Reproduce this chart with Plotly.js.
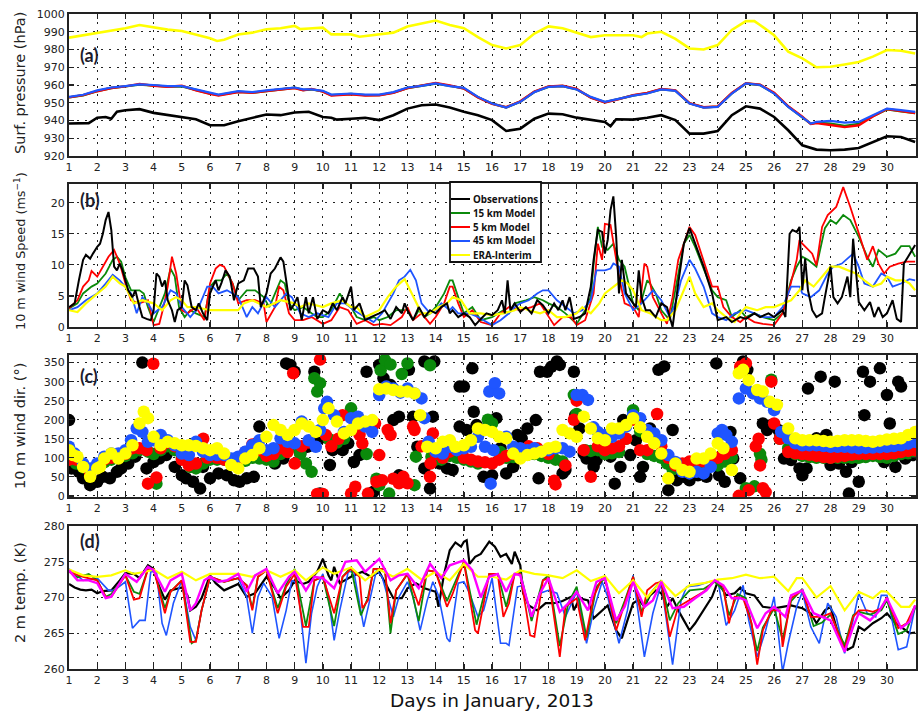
<!DOCTYPE html>
<html><head><meta charset="utf-8">
<script src="https://cdn.plot.ly/plotly-3.0.1.min.js"></script>
<style>html,body{margin:0;padding:0;background:#fff}#chart{width:918px;height:711px}</style>
</head><body><div id="chart"></div>
<script>
// ---------------- DATA (day of January 2013, value) ----------------
const dayTicks = [1,2,3,4,5,6,7,8,9,10,11,12,13,14,15,16,17,18,19,20,21,22,23,24,25,26,27,28,29,30];
const seriesNames = ['Observations','15 km Model','5 km Model','45 km Model','ERA-Interim'];

// (a) Surface pressure (hPa)
const presObs = [[1,938.3],[1.5,938.6],[1.7,938.5],[2,941.6],[2.3,942],[2.5,941],[2.7,944.9],[3,945.8],[3.5,946.4],[4,944.3],[4.5,943],[5,941.6],[5.5,940.7],[6,937.3],[6.5,937.3],[7,939.6],[7.5,941.6],[8,943.4],[8.5,943],[9,944.5],[9.5,944.9],[10,942],[10.3,941.6],[10.5,940.5],[11,941],[11.5,941.5],[12,940.2],[12.5,943],[13,946.7],[13.5,948.6],[14,949],[14.5,947.3],[15,944.9],[15.5,943],[16,940.2],[16.5,934.1],[17,935.4],[17.5,941],[18,943.9],[18.5,943.5],[19,941.6],[19.5,940.5],[20,939.2],[20.2,936.8],[20.4,940.7],[21,940.5],[21.5,941.5],[22,943],[22.5,940.2],[23,932.6],[23.5,932.6],[24,934.1],[24.5,943],[25,948],[25.5,946.7],[26,942],[26.5,934.5],[27,926],[27.5,923.6],[28,923.2],[28.5,923.6],[29,924.5],[29.5,927.9],[30,931.1],[30.5,930.7],[31,927.9]];
const pres15 = [[1,953],[1.5,954.2],[2,956.6],[2.5,958.3],[3,959.2],[3.5,960.2],[4,959.7],[4.5,959.1],[5,959.3],[5.5,957.2],[6,955.2],[6.3,954.3],[7,956.2],[7.5,955.7],[8,956.7],[8.5,957.7],[9,958.4],[9.3,957.2],[9.6,957.5],[10,956.4],[10.3,954.3],[11,954.9],[11.5,954.3],[12,954.3],[12.5,955.7],[13,958.3],[13.5,959.4],[14,960.8],[14.5,959.5],[15,958.1],[15.5,953.1],[16,949.5],[16.5,947.4],[17,950.6],[17.5,956.1],[18,959],[18.5,959.4],[19,957.6],[19.5,953],[20,950.3],[20.5,952.2],[21,954.1],[21.5,955.4],[22,957.6],[22.5,956.8],[23,949.7],[23.5,947.4],[24,947.8],[24.5,955.3],[25,960.8],[25.5,960],[26,955.3],[26.5,947.8],[27,942],[27.3,938.2],[27.5,938.8],[28,938.2],[28.5,937],[29,938],[29.5,942.5],[30,946.3],[30.5,945.2],[31,944.2]];
const pres5 = [[1,953],[1.5,954.3],[2,956.5],[2.5,958.3],[3,959.2],[3.5,960.6],[4,959.6],[4.5,959],[5,959.6],[5.5,957],[6,955],[6.3,954],[7,956],[7.5,955.6],[8,956.6],[8.5,957.6],[9,958.3],[9.3,957],[9.6,957.8],[10,956.3],[10.3,954],[11,954.8],[11.5,954],[12,954.2],[12.5,955.6],[13,958.2],[13.5,959.6],[14,961.2],[14.5,959.8],[15,958],[15.5,953],[16,949.4],[16.5,947.5],[17,950.8],[17.5,956.3],[18,959.2],[18.5,959.6],[19,957.8],[19.5,952.8],[20,950.2],[20.5,952],[21,954.3],[21.5,955.6],[22,957.8],[22.5,957],[23,949.8],[23.5,947.5],[24,947.9],[24.5,955.5],[25,961],[25.5,960.2],[26,955.6],[26.5,948],[27,942.2],[27.3,938],[27.5,938.5],[28,937.5],[28.5,936.3],[29,937.3],[29.5,942.3],[30,946.5],[30.5,945.3],[31,944.2]];
const pres45 = [[1,953.3],[1.5,954.5],[2,957],[2.5,958.6],[3,959.4],[3.5,960.3],[4,960],[4.5,959.4],[5,959.4],[5.5,957.5],[6,955.6],[6.3,954.6],[7,956.5],[7.5,956],[8,957],[8.5,958],[9,958.6],[9.3,957.5],[9.6,957.5],[10,956.7],[10.3,954.6],[11,955.2],[11.5,954.6],[12,954.6],[12.5,956],[13,958.6],[13.5,959.5],[14,960.9],[14.5,959.4],[15,958.4],[15.5,953.3],[16,949.6],[16.5,947.3],[17,950.5],[17.5,956],[18,959],[18.5,959.4],[19,957.5],[19.5,953.3],[20,950.5],[20.5,952.4],[21,954],[21.5,955.2],[22,957.5],[22.5,956.7],[23,949.6],[23.5,947.3],[24,947.7],[24.5,955.2],[25,960.9],[25.5,960],[26,955.2],[26.5,947.7],[27,942],[27.3,938.3],[27.5,939.2],[28,939.8],[28.5,938.8],[29,939.2],[29.5,943],[30,946.7],[30.5,945.8],[31,944.9]];
const presEra = [[1,986.7],[1.5,988],[2,989.5],[2.5,991],[3,992],[3.5,993.8],[4,992.3],[4.5,991.2],[5,990.4],[5.5,988.5],[6,986.3],[6.25,984.8],[6.5,985.5],[7,988.5],[7.5,989.5],[8,991.4],[8.5,992],[9,993.3],[9.2,991.5],[9.5,991.8],[10,992.3],[10.3,988.5],[11,988.5],[11.3,987.2],[11.5,987.6],[12,988.7],[12.5,989.5],[13,992.9],[13.5,994.5],[14,996.3],[14.5,993.8],[15,992],[15.5,987],[16,982.5],[16.5,980.6],[17,982.5],[17.5,989],[18,993],[18.5,992],[19,989.7],[19.5,987],[20,988],[20.5,988],[21,988],[21.3,987],[21.5,989],[22,990],[22.5,986],[23,980.6],[23.5,980],[24,982.5],[24.5,991],[25,996],[25.3,996],[25.5,993.8],[26,988],[26.5,978.8],[27,975],[27.5,970],[28,970.3],[28.5,971.6],[29,973],[29.5,976],[30,979.7],[30.5,979.3],[31,977.8]];

// (b) 10 m wind speed (m/s)
const spdObs = [[1,3.2],[1.2,3.8],[1.35,7.5],[1.5,10.8],[1.6,11.6],[1.75,11],[1.85,11.8],[2,12.9],[2.1,13.4],[2.2,15],[2.3,17.2],[2.4,18.5],[2.5,15.6],[2.6,9.7],[2.7,9.1],[2.8,10.2],[2.9,9.1],[3,7.5],[3.1,5.9],[3.25,4.8],[3.35,5.9],[3.5,3.2],[3.6,1.6],[3.75,1.3],[3.9,1.1],[4,2.7],[4.1,8.6],[4.2,8.1],[4.3,6.5],[4.4,7.5],[4.5,4.3],[4.65,2.7],[4.75,0.8],[4.85,2.7],[5,3.2],[5.1,7.5],[5.2,6.7],[5.35,3.2],[5.5,2.7],[5.6,3.8],[5.75,2.2],[5.9,1.1],[6,5.4],[6.1,6.5],[6.2,7.5],[6.3,5.9],[6.4,7],[6.55,9.1],[6.7,8.1],[6.85,4.3],[7,7],[7.2,7.5],[7.35,9.4],[7.55,9.4],[7.7,8.1],[7.8,3.2],[8,5.4],[8.15,8.6],[8.3,9.4],[8.5,11.2],[8.6,10.5],[8.7,7.5],[8.85,2.7],[9,3.8],[9.1,4.8],[9.25,1.1],[9.4,4.8],[9.5,2.2],[9.65,4.8],[9.8,1.3],[10,2.7],[10.2,2.2],[10.35,3.8],[10.5,2.7],[10.7,4.8],[10.8,3.8],[11,6.5],[11.1,2.7],[11.3,3.8],[11.5,1.1],[11.7,1.6],[12,2.2],[12.2,2.7],[12.4,1.3],[12.6,3.2],[12.8,2.2],[12.9,3.8],[13,2.7],[13.2,1.1],[13.4,3.2],[13.6,1.6],[13.8,2.7],[14,2.2],[14.2,3.2],[14.4,3.8],[14.5,2.2],[14.6,2.7],[14.8,1.6],[15,2.2],[15.2,1.6],[15.4,0.3],[15.6,1.3],[15.8,2.2],[16,1.9],[16.2,2.7],[16.35,4.3],[16.45,2.2],[16.55,7.5],[16.65,2.7],[16.8,3.8],[17,2.4],[17.2,3.2],[17.4,2.2],[17.6,4.3],[17.8,3.5],[18,2.2],[18.2,3.8],[18.35,2.7],[18.5,4.3],[18.6,2.7],[18.75,4.8],[18.9,1.3],[19.1,1.6],[19.3,2.2],[19.5,6.5],[19.6,10.8],[19.75,15.6],[19.9,15.3],[20,11.8],[20.1,14],[20.2,18.8],[20.3,21],[20.4,14.5],[20.5,5.4],[20.6,10.8],[20.75,5.4],[21,3.8],[21.1,3.2],[21.2,9.1],[21.3,4.8],[21.45,2.7],[21.6,2.7],[21.8,1.6],[22,3.8],[22.2,3.2],[22.4,0],[22.6,7],[22.8,13.4],[23,15.9],[23.2,13.4],[23.5,9.7],[23.8,5.4],[24,1.1],[24.3,1.6],[24.5,0.8],[24.8,1.6],[25,1.3],[25.3,2.2],[25.5,1.6],[25.8,2.2],[26,1.6],[26.3,2.7],[26.4,1.6],[26.55,15],[26.65,15.6],[26.8,15.3],[26.9,16.1],[27,5.9],[27.1,11],[27.2,5.9],[27.35,2.7],[27.5,1.6],[27.7,2.2],[27.8,4.8],[28,9.7],[28.1,4.8],[28.25,3.8],[28.4,4.8],[28.6,8.1],[28.7,4.8],[28.8,14.2],[28.9,9.1],[29,4],[29.2,2.7],[29.4,4],[29.55,1.6],[29.7,3.2],[29.85,1.6],[30,2.2],[30.2,4.3],[30.35,1.3],[30.5,0.8],[30.6,10.2],[30.75,11.3],[31,13.2]];
const spd15 = [[1,3],[1.3,3.8],[1.5,5.4],[1.8,6.5],[2,7],[2.3,8.6],[2.55,10.8],[2.7,11.3],[2.85,10.5],[3,8],[3.2,5.9],[3.5,5.9],[3.65,5.4],[3.8,3.2],[4,0.8],[4.2,3.2],[4.4,5.4],[4.6,9.4],[4.75,8.1],[4.9,3.2],[5.1,1.6],[5.3,2.7],[5.5,2.2],[5.8,1.6],[6,6.5],[6.2,7.5],[6.4,7.5],[6.6,8.6],[6.8,7],[7,4.3],[7.3,5.9],[7.6,5.9],[7.9,4.8],[8.1,3.2],[8.3,5.4],[8.5,7.5],[8.65,7],[8.8,3.8],[9,2.7],[9.3,3.2],[9.6,2.2],[9.8,1.6],[10,1.6],[10.3,2.7],[10.6,5.4],[10.8,3.8],[11,3.2],[11.2,1.6],[11.5,1.1],[11.8,1.6],[12,1.1],[12.3,1.6],[12.6,2.7],[13,2.7],[13.2,1.1],[13.4,2.7],[13.6,1.6],[13.8,2.2],[14,3.2],[14.3,5.4],[14.5,7.5],[14.6,7.5],[14.8,4.8],[15,2.2],[15.3,3.2],[15.6,1.1],[16,1.6],[16.4,2.7],[16.6,2.2],[16.8,3.8],[17.2,4.3],[17.5,4.8],[17.8,4.3],[18,3.8],[18.3,3.2],[18.6,2.2],[19,0.5],[19.3,2.7],[19.5,4.8],[19.6,10.2],[19.75,16.1],[19.9,12.9],[20.1,12.4],[20.3,13.4],[20.5,10.8],[20.7,9.7],[21,3.8],[21.2,2.7],[21.5,7.5],[21.6,7],[21.8,5.4],[22,2.7],[22.3,1.1],[22.6,8.6],[22.8,13.4],[23,14.8],[23.2,12.9],[23.5,9.4],[23.8,5.9],[24,4.8],[24.3,4.3],[24.5,1.6],[24.8,2.7],[25,1.6],[25.3,2.2],[25.6,1.6],[26,1.1],[26.3,2.2],[26.6,7.5],[26.8,9.7],[27,11.3],[27.2,10.8],[27.5,9.7],[27.8,15.9],[28,17.2],[28.2,16.6],[28.45,18],[28.7,17.2],[29,14.5],[29.3,11.3],[29.5,9.7],[29.7,12.4],[30,11.3],[30.3,11.8],[30.5,13],[30.8,13],[31,11.3]];
const spd5 = [[1,3],[1.3,4.3],[1.5,6.5],[1.7,7.5],[1.8,9],[2,8.1],[2.2,9.7],[2.4,11.3],[2.6,12.4],[2.8,10.2],[3,7],[3.2,4.3],[3.5,3.8],[3.8,4.3],[4,0.3],[4.2,0.5],[4.35,3.2],[4.5,6.5],[4.65,11.3],[4.8,8.6],[5,2.7],[5.2,2.2],[5.5,3.2],[5.8,1.1],[6,7],[6.2,9.4],[6.35,10],[6.5,9.7],[6.8,7],[7,3.8],[7.3,4.3],[7.6,4.3],[7.9,3.8],[8,0.8],[8.3,3.2],[8.45,6.5],[8.6,5.9],[8.8,2.2],[9,1.1],[9.3,1.1],[9.6,1.6],[10,0.5],[10.3,1.1],[10.6,3.2],[10.9,2.7],[11.2,0.5],[11.5,1.1],[11.8,0.3],[12.1,0.5],[12.4,0.3],[12.8,1.6],[13,3.2],[13.2,1.1],[13.5,2.2],[13.8,0.5],[14,1.6],[14.3,3.8],[14.5,6.5],[14.6,6.5],[14.8,3.8],[15,1.6],[15.3,2.7],[15.6,0.8],[16,0.3],[16.3,2.2],[16.6,3.2],[17,2.7],[17.4,3.2],[17.7,3.8],[18,1.6],[18.2,0.3],[18.5,1.6],[18.8,1.6],[19,0.3],[19.3,1.1],[19.6,5.4],[19.75,13.4],[19.9,10.8],[20,16.6],[20.2,16.4],[20.35,12.4],[20.5,8.1],[20.7,3.8],[21,3.2],[21.2,1.6],[21.4,10.2],[21.5,9.7],[21.7,4.8],[22,2.2],[22.2,0.5],[22.4,4.8],[22.6,10.8],[22.8,13.4],[23,16.1],[23.2,14.8],[23.5,10.8],[23.8,6.5],[24,6.5],[24.2,3.2],[24.5,1.6],[24.8,0.8],[25,1.6],[25.3,0.8],[25.6,0.5],[26,0.3],[26.3,2.2],[26.5,5.4],[26.8,10.8],[26.9,14],[27,13.4],[27.2,12.4],[27.35,11.8],[27.5,9.9],[27.7,16.1],[27.9,18],[28.2,19.3],[28.45,22.5],[28.7,19.3],[29,15.1],[29.3,10.8],[29.5,13],[29.7,10.2],[29.9,8.6],[30.1,9.7],[30.4,10.2],[30.7,10.5],[31,10.5]];
const spd45 = [[1,2.7],[1.3,3.2],[1.6,4.3],[2,5.4],[2.3,7],[2.55,8.4],[2.8,7.5],[3,6.5],[3.2,5.4],[3.4,2.2],[3.6,4.8],[3.8,3.8],[4,2.2],[4.3,3.2],[4.6,5.9],[4.8,5.4],[5,3.2],[5.3,1.6],[5.6,3.2],[5.9,6.5],[6.1,6.5],[6.3,5.4],[6.6,5.9],[6.8,5.4],[7,4.8],[7.3,1.6],[7.5,3.2],[7.7,2.2],[8,4.8],[8.3,3.2],[8.5,4.3],[8.7,5.4],[8.9,4.8],[9.2,2.2],[9.5,1.6],[9.8,2.2],[10.2,1.6],[10.5,3.8],[10.8,3.8],[11.1,2.7],[11.5,1.6],[11.8,0.8],[12.1,2.2],[12.5,5.4],[12.7,7.5],[12.9,8.1],[13.1,9.2],[13.3,7.5],[13.5,3.8],[13.8,2.2],[14,2.7],[14.2,3.8],[14.5,2.7],[14.6,3.2],[14.8,2.2],[15.2,2.2],[15.5,1.6],[15.8,0.8],[16,0.3],[16.3,1.1],[16.6,2.2],[16.8,3.2],[17,3.8],[17.3,4.3],[17.6,5.4],[17.8,5.9],[18,5.9],[18.3,4.3],[18.6,3.2],[18.9,2.2],[19.2,2.7],[19.5,4.3],[19.7,9.1],[20,9.1],[20.2,9.4],[20.3,10.2],[20.5,9.7],[20.7,5.4],[21,2.7],[21.3,3.8],[21.5,4.8],[21.7,5.9],[22,4.3],[22.3,1.6],[22.5,3.8],[22.7,7.5],[23,10.8],[23.2,9.4],[23.5,6.5],[23.8,2.2],[24,1.6],[24.3,1.1],[24.6,2.2],[25,2.7],[25.3,2.2],[25.6,1.6],[26,1.6],[26.3,3.2],[26.6,6.5],[26.9,6.5],[27,5.4],[27.3,4.8],[27.6,5.9],[27.9,8.6],[28.1,9.7],[28.4,10.2],[28.8,11.8],[29,9.7],[29.2,7],[29.5,6.5],[29.8,8.6],[30,8.1],[30.2,6.5],[30.5,7],[30.8,7.7],[31,7.5]];
const spdEra = [[1,2.7],[1.3,2.4],[1.6,3.8],[2,5.4],[2.3,6.5],[2.55,8.1],[2.8,7],[3,6.5],[3.3,3.8],[3.6,4.3],[4,3.8],[4.3,2.7],[4.6,4.3],[4.8,4.8],[5,4.3],[5.2,3.2],[5.5,3.2],[6,2.7],[7,2.7],[7.2,3.8],[7.5,4.3],[8,3.2],[8.5,4.3],[9,3.8],[9.2,3.2],[9.5,3.8],[10,3.2],[10.3,3.8],[10.7,4.3],[11,3.2],[11.2,3.2],[11.5,1.6],[11.8,2.2],[12,2.7],[12.3,4.8],[12.6,6.5],[12.9,7.7],[13.1,5.9],[13.5,2.2],[13.8,2.2],[14.1,3.2],[14.4,3.8],[14.6,4.8],[14.9,4.3],[15.2,2.2],[15.6,2.2],[16,1.9],[16.4,2.2],[16.8,2.7],[17,3.2],[17.3,2.7],[17.7,2.2],[18,2.7],[18.3,1.6],[18.6,1.6],[19,2.2],[19.2,3.2],[19.5,2.2],[19.8,3.8],[20,5.4],[20.3,6.5],[20.6,7.5],[20.8,7],[21,5.9],[21.3,2.7],[21.6,2.2],[22,1.1],[22.2,1.1],[22.5,2.7],[22.8,5.9],[23,8.1],[23.2,5.4],[23.5,3.2],[23.8,3.8],[24,2.7],[24.3,1.6],[24.6,0.8],[24.8,2.2],[25,3.2],[25.4,2.7],[25.7,3.2],[26,3.2],[26.3,3.8],[26.6,4.3],[26.9,5.9],[27.1,7.5],[27.4,6.5],[27.7,8.1],[28,9.7],[28.3,9.7],[28.6,9.1],[28.9,8.6],[29.2,7.5],[29.5,6.5],[29.8,7],[30,8.1],[30.3,7.5],[30.6,7.5],[30.8,7],[31,5.9]];

// (c) 10 m wind direction (degrees)
const dirObs = [[1,199],[1.1,72],[1.35,63],[1.5,46],[1.75,28],[2,37],[2.2,50],[2.45,46],[2.7,63],[2.85,72],[3.1,85],[3.35,103],[3.6,350],[3.75,72],[4,89],[4.2,98],[4.45,107],[4.75,76],[5,54],[5.15,46],[5.4,37],[5.65,19],[5.75,76],[6,46],[6.3,59],[6.6,54],[6.85,41],[7.05,37],[7.3,46],[7.55,50],[7.75,182],[8,103],[8.3,85],[8.6,98],[8.7,348],[8.85,344],[9,326],[9.2,111],[9.45,129],[9.7,326],[9.9,6],[9.9,151],[10.25,81],[10.35,120],[10.7,120],[10.9,138],[11.1,89],[11.3,107],[11.55,326],[11.8,11],[12,344],[12.15,309],[12.4,291],[12.5,199],[12.7,208],[12.7,54],[13.05,331],[13.2,208],[13.35,129],[13.6,353],[13.6,72],[13.8,19],[13.9,208],[13.95,353],[14.15,85],[14.4,72],[14.6,68],[14.85,182],[14.85,287],[15,287],[15.1,173],[15.3,335],[15.35,221],[15.45,186],[15.7,50],[16,54],[16.15,204],[16.3,125],[16.5,59],[16.75,76],[16.9,160],[17.05,151],[17.25,177],[17.55,199],[17.65,46],[17.7,326],[17.95,326],[18.1,339],[18.3,353],[18.4,344],[18.5,59],[18.6,68],[18.9,326],[18.95,212],[19.1,177],[19.25,111],[19.35,98],[19.6,76],[19.7,94],[19.95,116],[20.2,103],[20.35,32],[20.55,76],[20.65,199],[20.9,107],[21.1,146],[21.25,50],[21.35,76],[21.6,177],[21.9,331],[22.1,340],[22.25,15],[22.4,173],[22.55,41],[22.8,50],[23,41],[23.3,54],[23.6,50],[23.95,348],[24.05,54],[24.25,37],[24.45,168],[24.55,98],[24.8,46],[24.9,353],[25.05,331],[25.6,190],[25.75,173],[25.9,186],[26.15,173],[26.35,98],[26.6,94],[26.9,72],[27,54],[27.15,72],[27.2,282],[27.5,151],[27.65,313],[27.75,107],[27.85,160],[28,81],[28.15,300],[28.3,85],[28.55,63],[28.65,6],[28.75,89],[29,37],[29.15,326],[29.2,212],[29.4,300],[29.75,335],[29.9,89],[30,265],[30.1,190],[30.3,76],[30.4,300],[30.5,287],[30.65,98],[30.9,107]];
const dir15 = [[1,95],[1.25,85],[1.5,75],[1.75,70],[2,80],[2.25,88],[2.5,95],[2.75,100],[3,105],[3.25,112],[3.5,120],[3.8,116],[4,110],[4.1,32],[4.25,120],[4.5,130],[4.75,120],[5,100],[5.3,76],[5.5,72],[5.75,85],[6,95],[6.25,95],[6.5,95],[6.75,90],[7,85],[7.25,92],[7.5,100],[7.75,98],[8,95],[8.25,90],[8.5,110],[8.75,120],[9,130],[9.2,110],[9.4,85],[9.6,63],[9.7,309],[9.8,274],[9.9,296],[10.2,150],[10.5,140],[10.75,150],[11,230],[11.25,175],[11.55,110],[11.9,45],[12,28],[12.05,330],[12.2,357],[12.35,6],[12.4,345],[12.8,320],[13,348],[13.25,28],[13.3,103],[13.8,343],[13.85,103],[14,95],[14.2,95],[14.5,105],[14.75,100],[15,95],[15.25,90],[15.5,85],[15.85,200],[16,190],[16.3,115],[16.5,100],[16.75,102],[17,105],[17.25,108],[17.5,110],[17.75,105],[18,100],[18.25,95],[18.5,90],[18.9,265],[19,215],[19.3,120],[19.5,118],[19.75,120],[20,110],[20.25,112],[20.5,115],[20.75,150],[21,225],[21.25,170],[21.5,110],[21.75,105],[22,100],[22.2,85],[22.4,70],[22.7,70],[23,70],[23.25,75],[23.5,80],[23.75,80],[24,80],[24.25,90],[24.5,100],[24.8,330],[25,20],[25.3,25],[25.5,110],[25.55,95],[25.9,305],[26.2,150],[26.5,125],[26.75,110],[27,105],[27.25,102],[27.5,100],[27.75,100],[28,100],[28.25,100],[28.5,100],[28.75,100],[29,100],[29.25,102],[29.5,105],[29.75,102],[30,100],[30.25,105],[30.5,110],[30.75,112],[31,115]];
const dir5 = [[1,95],[1.25,95],[1.5,80],[1.75,60],[2,80],[2.25,95],[2.5,100],[2.75,105],[3,110],[3.25,125],[3.5,125],[3.75,120],[3.8,32],[3.99,347],[4.1,48],[4.25,125],[4.5,140],[4.75,130],[5,95],[5.25,80],[5.5,85],[5.76,150],[5.9,100],[6.25,100],[6.5,95],[6.75,90],[7,95],[7.25,115],[7.5,135],[7.75,120],[8,105],[8.25,110],[8.5,125],[8.75,115],[8.95,322],[9,85],[9.25,130],[9.5,140],[9.8,5],[9.9,358],[10,5],[10.1,160],[10.3,130],[10.55,150],[10.7,212],[11,6],[11.15,24],[11.3,160],[11.4,138],[11.6,6],[11.85,190],[11.9,37],[12,107],[12.1,41],[12.3,173],[12.4,160],[12.5,45],[12.7,33],[12.85,50],[13,33],[13.2,182],[13.25,173],[13.5,130],[13.8,50],[13.82,85],[13.9,164],[14,110],[14.25,100],[14.5,116],[15,100],[15.25,95],[15.5,90],[15.75,88],[16,85],[16.25,95],[16.5,105],[16.75,110],[17,115],[17.3,130],[17.6,125],[18,110],[18.2,40],[18.25,30],[18.6,80],[18.9,200],[19,250],[19.25,120],[19.5,50],[19.75,130],[20,120],[20.25,125],[20.5,130],[20.75,150],[21,200],[21.25,120],[21.5,120],[21.85,215],[22,130],[22.25,100],[22.5,80],[22.75,85],[23,90],[23.25,90],[23.5,90],[23.75,95],[24,100],[24.25,110],[24.5,120],[24.75,0],[24.8,340],[25,348],[25.1,15],[25.35,130],[25.45,150],[25.5,80],[25.6,20],[25.7,10],[25.9,300],[26,190],[26.2,150],[26.5,115],[26.75,112],[27,110],[27.25,108],[27.5,105],[27.75,102],[28,100],[28.25,103],[28.5,105],[28.75,108],[29,110],[29.25,110],[29.5,110],[29.75,110],[30,110],[30.25,112],[30.5,115],[30.75,118],[31,120]];
const dir45 = [[1,129],[1.2,111],[1.5,85],[1.75,72],[2,85],[2.25,103],[2.5,111],[2.75,111],[3,120],[3.2,146],[3.4,177],[3.6,168],[3.8,142],[4,146],[4.25,160],[4.5,146],[4.75,133],[5,111],[5.25,107],[5.5,142],[5.75,116],[6,107],[6.25,107],[6.5,107],[6.75,98],[7,103],[7.25,116],[7.5,133],[7.75,146],[8,120],[8.25,125],[8.5,151],[8.75,142],[9,138],[9.25,195],[9.5,146],[9.75,129],[9.9,173],[10.05,230],[10.15,247],[10.4,212],[10.75,168],[11,204],[11.25,208],[11.5,182],[11.75,168],[12,265],[12.25,287],[12.5,282],[12.75,271],[13,282],[13.25,269],[13.5,256],[13.6,204],[13.75,142],[14,116],[14.25,111],[14.5,129],[14.75,120],[15,125],[15.25,129],[15.5,155],[15.75,129],[15.9,274],[15.95,32],[16.05,120],[16.1,296],[16.25,269],[16.5,155],[16.75,129],[17,125],[17.25,120],[17.5,125],[17.75,116],[18,120],[18.25,125],[18.5,125],[18.75,116],[19,265],[19.2,265],[19.4,252],[19.6,180],[19.75,168],[20,160],[20.25,155],[20.5,164],[20.75,182],[21,212],[21.25,204],[21.5,173],[21.75,164],[22,146],[22.25,107],[22.5,89],[22.75,63],[23,59],[23.25,63],[23.5,59],[23.75,76],[24,164],[24.15,173],[24.3,160],[24.5,142],[24.75,256],[25,282],[25.25,269],[25.5,256],[25.75,247],[26,225],[26.25,168],[26.5,151],[26.75,138],[27,133],[27.25,133],[27.5,133],[27.75,131],[28,129],[28.25,129],[28.5,129],[28.75,127],[29,125],[29.25,126],[29.5,127],[29.75,128],[30,129],[30.25,131],[30.5,133],[30.75,137],[31,142]];
const dirEra = [[1,120],[1.15,107],[1.3,103],[1.5,76],[1.75,50],[2,72],[2.1,76],[2.25,98],[2.5,111],[2.75,98],[3,111],[3.25,133],[3.5,190],[3.65,221],[3.8,204],[4,155],[4.25,133],[4.5,142],[4.75,138],[5,133],[5.25,133],[5.5,131],[5.75,125],[6,120],[6.25,125],[6.5,111],[6.75,81],[7,72],[7.25,98],[7.5,107],[7.75,125],[8,155],[8.25,186],[8.5,173],[8.75,160],[9,173],[9.25,190],[9.5,182],[9.75,168],[10,199],[10.2,230],[10.5,195],[10.75,164],[11,173],[11.25,190],[11.5,195],[11.75,199],[12,280],[12.25,282],[12.5,278],[12.75,274],[13,274],[13.25,269],[13.45,212],[13.7,129],[14,125],[14.25,142],[14.5,146],[14.7,129],[15,133],[15.25,146],[15.5,177],[15.75,173],[16,168],[16.25,155],[16.5,151],[16.75,111],[17,98],[17.25,107],[17.5,111],[17.75,116],[18,125],[18.25,129],[18.5,173],[18.75,164],[19,155],[19.25,208],[19.5,177],[19.75,151],[20,146],[20.25,177],[20.5,177],[20.75,186],[21,204],[21.25,180],[21.5,155],[21.75,138],[22,111],[22.25,46],[22.5,85],[22.75,68],[23,63],[23.25,98],[23.5,98],[23.75,111],[24,138],[24.2,125],[24.5,68],[24.75,322],[24.9,331],[25.1,304],[25.4,278],[25.6,274],[25.85,247],[26.1,239],[26.5,177],[26.75,151],[27,146],[27.25,146],[27.5,146],[27.75,144],[28,142],[28.25,144],[28.5,146],[28.75,146],[29,146],[29.25,144],[29.5,142],[29.75,145],[30,148],[30.25,150],[30.5,151],[30.75,160],[31,168]];

// (d) 2 m temperature (K)
const tObs = [[1,271.9],[1.2,271.4],[1.4,271.1],[1.6,271],[1.8,271.1],[2,270.6],[2.2,270.9],[2.5,271],[2.8,272.4],[3,273.4],[3.3,273.3],[3.5,272.7],[3.8,274.5],[4,274],[4.2,271.5],[4.4,269.7],[4.6,271],[5,271.4],[5.2,270.3],[5.3,268.2],[5.5,268.7],[5.7,269.9],[6,273.1],[6.2,272],[6.5,271],[7,271.9],[7.3,270.1],[7.6,270.6],[8,272.9],[8.3,271.3],[8.5,269.9],[8.8,271],[9,272.4],[9.3,271.9],[9.5,272.2],[9.8,273.6],[10,275.4],[10.2,273.1],[10.3,272.4],[10.4,274.3],[10.6,272],[11,272.9],[11.4,273.6],[11.7,272.9],[12,273.6],[12.3,271.5],[12.5,269.9],[12.8,269.9],[13,271.3],[13.3,272],[13.6,271.3],[14,270.8],[14.1,268.7],[14.3,273.3],[14.5,276.6],[14.7,277.7],[14.9,277.1],[15,277.8],[15.1,278],[15.2,274.7],[15.4,275.7],[15.6,276.1],[15.9,277.8],[16.1,277.1],[16.3,275.7],[16.5,276.1],[16.7,274.7],[16.8,276.4],[17,274.5],[17.1,270.6],[17.3,268.9],[17.6,268.2],[17.9,269.2],[18.2,269.2],[18.5,269.5],[18.8,270.1],[18.9,268.2],[19.1,269.9],[19.4,269.6],[19.6,267.1],[19.9,268.2],[20.1,268.9],[20.4,265.4],[20.6,264.3],[20.8,266.8],[21,269.2],[21.2,269.7],[21.4,268.7],[21.6,270.3],[21.8,271],[22,270.6],[22.2,268.7],[22.4,269.9],[22.6,268.2],[22.8,266.8],[23,265.4],[23.2,266.4],[23.5,268.2],[23.8,270.1],[24,272.2],[24.3,270.3],[24.6,270.6],[24.8,271.4],[25,270.6],[25.3,270.3],[25.6,268.7],[26,268.5],[26.3,268.7],[26.6,268.9],[27,268.5],[27.3,267.8],[27.5,266.4],[27.8,268.2],[28,268.7],[28.3,264.5],[28.6,262.7],[28.8,263.1],[29,265.9],[29.2,265.4],[29.5,266.4],[29.8,267.1],[30,267.8],[30.3,266.4],[30.5,265.9],[30.8,265],[31,265.1]];
const t15 = [[1,273.6],[1.3,272.8],[1.7,273.3],[2,272.4],[2.3,270.1],[2.5,270.5],[3,273.1],[3.3,270.8],[3.5,270.5],[3.8,274],[4,274],[4.4,268.5],[4.6,270.8],[5,272.4],[5.35,263.6],[5.5,264],[5.7,268.2],[6,272.9],[6.5,272.2],[7,272.7],[7.3,271.7],[7.5,268.5],[7.7,272.9],[8,273.8],[8.4,268.5],[8.7,271.8],[9,274],[9.4,266],[9.7,272.4],[10,272.9],[10.4,266],[10.7,272.9],[11,274.2],[11.35,267.5],[11.6,270],[11.8,274],[12.2,274],[12.4,265],[12.6,271],[13,273.3],[13.4,266.7],[13.7,273.8],[14,273.6],[14.4,269.5],[15,275],[15.45,266.2],[15.9,273.3],[16.2,273.3],[16.5,268.7],[16.8,273.3],[17,273.6],[17.4,266.7],[17.8,272.4],[18,273.1],[18.4,263.2],[18.7,269.2],[19,271.5],[19.35,264.4],[19.7,271.5],[20,272.7],[20.4,266.4],[20.7,269.5],[21,272.9],[21.3,268],[21.6,270.5],[22,272.4],[22.3,266.8],[22.6,269.2],[23,271],[23.5,271.2],[23.9,272.2],[24.2,271],[24.4,267.5],[24.7,270.5],[25,269.9],[25.4,262.5],[25.6,265.8],[26,268.5],[26.3,264.1],[26.6,269.5],[27,271.2],[27.4,266],[27.7,266.5],[28,267.6],[28.5,263.3],[28.8,267.5],[29,268],[29.4,267.6],[29.8,268.2],[30,269.6],[30.4,264.9],[30.7,265.4],[31,268.6]];
const t5 = [[1,273.6],[1.5,272.9],[2,272.4],[2.3,270.1],[2.5,270.1],[3,273.1],[3.3,269.7],[3.5,269.9],[3.8,274],[4,274],[4.4,267.8],[4.6,270.8],[5,272.4],[5.3,263.8],[5.5,263.8],[5.7,268.2],[6,272.9],[6.5,272.2],[7,272.7],[7.3,271.7],[7.5,268.2],[7.7,272.9],[8,273.8],[8.4,267.8],[8.7,271.5],[9,273.3],[9.3,265.9],[9.5,265.9],[9.7,272.4],[10,272.9],[10.4,267.8],[10.7,272.9],[11,274],[11.3,272.9],[11.4,268.5],[11.6,269.6],[11.8,274],[12.2,274],[12.4,266.4],[12.6,271],[13,273.3],[13.4,268.9],[13.7,273.8],[14,273.6],[14.4,268.7],[14.6,270.5],[15,275],[15.4,265.4],[15.5,265],[15.9,273.3],[16.2,273.3],[16.4,267.3],[16.6,269.2],[16.8,273.3],[17,273.3],[17.35,264.7],[17.5,264.5],[17.8,272.4],[18,272.7],[18.4,261.7],[18.6,268.7],[19,269.9],[19.3,264],[19.6,270.1],[19.9,272.7],[20,272.7],[20.4,265.4],[20.7,269.2],[21,272.9],[21.3,267.3],[21.5,271],[21.8,272],[22,272.2],[22.3,264.5],[22.6,268.7],[22.9,269.4],[23.2,270.1],[23.5,270.8],[23.9,272.4],[24.2,271.5],[24.4,266.4],[24.6,270.1],[24.9,269.9],[25.2,266.4],[25.4,260.6],[25.6,265.4],[25.9,268.2],[26.2,268.2],[26.3,263.1],[26.6,269.9],[27,271],[27.3,267.3],[27.7,267.3],[28,267.8],[28.5,262.7],[28.8,267.3],[29,268.2],[29.3,268.2],[29.5,268],[29.8,268.5],[30,270],[30.4,265.7],[30.7,266.4],[31,268.9]];
const t45 = [[1,274],[1.5,272.4],[2,272.7],[2.4,271],[2.6,271],[3,272.2],[3.25,265.7],[3.5,266.8],[3.7,266.8],[3.9,273.6],[4.1,273.6],[4.3,266.4],[4.45,264.7],[4.7,269.2],[5,272.4],[5.3,265.9],[5.5,264],[5.7,268.2],[6,272.7],[6.3,272.2],[6.6,272.4],[7,272.7],[7.3,270.1],[7.5,265],[7.7,270.1],[7.9,272],[8.2,270.1],[8.45,264.3],[8.7,268.2],[8.9,272.4],[9.1,272],[9.4,260.8],[9.6,267.8],[9.8,271.5],[10,273.3],[10.2,270.1],[10.4,264],[10.6,268.2],[10.9,273.6],[11.1,273.6],[11.45,265.9],[11.7,270.1],[11.9,273.8],[12.1,272.9],[12.5,267.3],[12.7,270.1],[13,272.2],[13.2,270.1],[13.45,265.4],[13.7,269.6],[13.9,272.2],[14.1,270.3],[14.4,264.3],[14.5,263.8],[14.8,272],[15,272.2],[15.2,270.6],[15.5,267.3],[15.7,268.2],[16,272.7],[16.3,263.6],[16.5,263.6],[16.6,263.3],[16.9,271.5],[17.1,271.7],[17.4,267.3],[17.7,270.6],[18,271],[18.3,270.6],[18.6,267.3],[19,270.8],[19.35,263.6],[19.6,268.2],[19.9,272.2],[20.1,270.1],[20.5,263.6],[20.8,268.2],[21,273.1],[21.3,264.5],[21.4,261.7],[21.7,267.8],[22,272],[22.4,260.6],[22.7,269.6],[22.9,271.5],[23.3,271.7],[23.7,272.2],[24,272.4],[24.3,266.1],[24.6,268.2],[24.9,271.7],[25.1,266.8],[25.4,261.7],[25.7,265.4],[26,270.1],[26.3,259.6],[26.5,263.6],[26.8,268.7],[27,270.8],[27.3,265.9],[27.6,263.6],[27.9,269.2],[28.2,267.3],[28.5,262.2],[28.8,266.8],[29,270.6],[29.3,267.8],[29.6,267.3],[29.8,270.3],[30,270.3],[30.4,262.7],[30.7,263.1],[31,268.7]];
const tEra = [[1,273.9],[1.5,273.1],[2,272.9],[2.5,273.1],[3,273.8],[3.3,273.3],[3.7,273.6],[4,273.9],[4.5,272.7],[5,273.6],[5.5,272.4],[6,273.3],[7,273.3],[7.5,272.9],[8,273.8],[8.5,272.9],[9,273.8],[9.4,272.4],[10,274.2],[10.4,273.3],[11,274.2],[11.5,272.4],[12,273.9],[12.5,272.9],[13,274],[13.5,272.5],[14,273.6],[14.5,272.4],[15,274.7],[15.5,272.9],[16,272.9],[16.5,272.5],[17,273.8],[17.5,273.3],[18,273.1],[18.5,272.7],[19,273.8],[19.5,272.3],[20,273],[20.5,270.6],[21,272.4],[21.5,270],[22,272.3],[22.5,270.2],[23,271.7],[23.5,272],[24,272.5],[24.5,272.7],[25,273.2],[25.5,272.7],[26,272.9],[26.5,270.9],[26.8,272.7],[27,272.7],[27.5,270],[28,271.6],[28.5,268.2],[29,270.8],[29.5,269.9],[29.8,270.9],[30,270.8],[30.5,268.7],[30.8,268.7],[31,269.7]];
const tMag = [[1,273.8],[1.3,272.4],[1.7,272.4],[2,272],[2.3,269.9],[2.5,270.1],[3,273.3],[3.4,272.2],[3.8,274.3],[4,273.8],[4.4,270.8],[4.6,272.4],[5,273.3],[5.3,268.2],[5.5,269.2],[5.8,272.4],[6,272.9],[6.3,272.2],[6.6,272.4],[7,273.3],[7.3,270.8],[7.6,273.1],[8,274],[8.4,270.6],[8.8,272.9],[9,273.6],[9.4,271],[9.7,272.9],[10,272.7],[10.4,271.3],[10.8,275],[11.2,275.2],[11.5,273.6],[11.8,274.7],[12,275.4],[12.4,272.4],[12.7,273.1],[13,273.3],[13.4,271.3],[13.8,274.7],[14.2,272.7],[14.5,274.5],[15,275.2],[15.3,273.8],[15.6,270],[15.9,272.9],[16.2,273.3],[16.5,270.8],[16.8,273.3],[17,273.1],[17.4,267.3],[17.7,270.6],[18,272.7],[18.4,268],[18.7,269.2],[19,270.8],[19.4,268.2],[19.7,272.2],[20,272.7],[20.4,266.8],[20.7,268.7],[21,272.2],[21.4,268.7],[21.7,269.6],[22,272.2],[22.4,268.5],[22.8,268.7],[23.2,269.9],[23.6,271],[23.9,272.4],[24.2,271.7],[24.5,269.9],[24.8,269.9],[25,269.6],[25.4,265.7],[25.7,267.8],[26,268.7],[26.4,267.3],[26.6,270.3],[27,271],[27.4,267.8],[27.7,267.3],[28,266.8],[28.5,262.4],[28.8,265.9],[29,267.8],[29.4,266.8],[29.7,268],[30,269.9],[30.5,265.7],[30.8,266.6],[31,268.9]];

// ---------------- STYLE ----------------
const COL = {obs:'#000000', m15:'#0b8a0b', m5:'#ff0000', m45:'#1f55ff', era:'#ffff00', mag:'#ff00ff'};
const W = 918, H = 711, ML = 69, MR = 2, PW = W - ML - MR;
const px = v => (v - ML) / PW;      // pixel x -> paper
const py = v => 1 - v / H;          // pixel y -> paper

const xs = p => p.map(d => d[0]);
const ys = p => p.map(d => d[1]);
function line(p, name, color, width, n){
  return {x:xs(p), y:ys(p), type:'scatter', mode:'lines', name, line:{color, width},
          xaxis:'x'+(n>1?n:''), yaxis:'y'+(n>1?n:''), showlegend:false, hoverinfo:'skip'};
}
function dots(p, name, color, n){
  return {x:xs(p), y:ys(p), type:'scatter', mode:'markers', name, marker:{color, size:12.5, line:{width:0}},
          xaxis:'x'+n, yaxis:'y'+n, showlegend:false, hoverinfo:'skip'};
}

const traces = [
  line(presObs, seriesNames[0], COL.obs, 2.6, 1),
  line(pres15, seriesNames[1], COL.m15, 2.4, 1),
  line(pres5, seriesNames[2], COL.m5, 2.4, 1),
  line(pres45, seriesNames[3], COL.m45, 2.2, 1),
  line(presEra, seriesNames[4], COL.era, 2.6, 1),

  line(spd15, seriesNames[1], COL.m15, 1.8, 2),
  line(spd5, seriesNames[2], COL.m5, 1.8, 2),
  line(spd45, seriesNames[3], COL.m45, 1.8, 2),
  line(spdEra, seriesNames[4], COL.era, 2.2, 2),
  line(spdObs, seriesNames[0], COL.obs, 2, 2),

  dots(dirObs, seriesNames[0], COL.obs, 3),
  dots(dir15, seriesNames[1], COL.m15, 3),
  dots(dir5, seriesNames[2], COL.m5, 3),
  dots(dir45, seriesNames[3], COL.m45, 3),
  dots(dirEra, seriesNames[4], COL.era, 3),

  line(tObs, seriesNames[0], COL.obs, 2.2, 4),
  line(t45, seriesNames[3], COL.m45, 1.6, 4),
  line(t15, seriesNames[1], COL.m15, 1.8, 4),
  line(t5, seriesNames[2], COL.m5, 1.8, 4),
  line(tEra, seriesNames[4], COL.era, 2.2, 4),
  line(tMag, 'model (magenta)', COL.mag, 2.4, 4)
];

const tickFont = {family:'DejaVu Sans, sans-serif', size:11, color:'#222'};
function xax(anchor){
  return {domain:[0,1], range:[1,31.03], anchor, tickmode:'array', tickvals:dayTicks,
    ticks:'inside', ticklen:5, tickwidth:1.3, tickcolor:'#222', mirror:'ticks',
    showline:true, linewidth:2, linecolor:'#222',
    showgrid:true, gridcolor:'#222', gridwidth:1, griddash:'2px,6px', zeroline:false,
    tickfont:tickFont, fixedrange:true};
}
function yax(anchor, top, bot, range, vals){
  return {domain:[py(bot), py(top)], range, anchor, tickmode:'array', tickvals:vals,
    ticks:'inside', ticklen:5, tickwidth:1.3, tickcolor:'#222', mirror:'ticks',
    showline:true, linewidth:2, linecolor:'#222',
    showgrid:true, gridcolor:'#222', gridwidth:1, griddash:'2px,6px', zeroline:false,
    tickfont:tickFont, fixedrange:true};
}

const ann = [];
const titleFont = {family:'DejaVu Sans, sans-serif', size:14.5, color:'#222'};
function ytitle(text, cy, size){
  ann.push({text, xref:'paper', yref:'paper', x:px(20), y:py(cy), textangle:-90, showarrow:false,
    xanchor:'center', yanchor:'middle', font:Object.assign({}, titleFont, {size})});
}
ytitle('Surf. pressure (hPa)', 83, 14.5);
ytitle('10 m wind Speed (ms<sup>−1</sup>)', 251, 12.8);
ytitle('10 m wind dir. (°)', 426, 14.5);
ytitle('2 m temp. (K)', 593, 14.5);

const panelFont = {family:'Lato, Open Sans, sans-serif', size:18, color:'#1c1c2c'};
[['(a)',55],['(b)',200],['(c)',376],['(d)',541]].forEach(([t,y]) => {
  ann.push({text:'<b>'+t+'</b>', xref:'paper', yref:'paper', x:px(78), y:py(y), xanchor:'left', yanchor:'middle',
    showarrow:false, font:panelFont});
});
ann.push({text:'Days in January, 2013', xref:'paper', yref:'paper', x:px(492), y:py(700), xanchor:'center', yanchor:'middle',
  showarrow:false, font:{family:'DejaVu Sans, sans-serif', size:18.5, color:'#111'}});

// manual legend (panel b)
const shapes = [];
shapes.push({type:'rect', xref:'paper', yref:'paper', x0:px(450), x1:px(541), y0:py(262), y1:py(182),
  line:{color:'#111', width:1.8}, fillcolor:'#ffffff', layer:'above'});
const legCols = [COL.obs, COL.m15, COL.m5, COL.m45, COL.era];
const legY = [199, 213, 227, 241, 255];
seriesNames.forEach((nm, i) => {
  shapes.push({type:'line', xref:'paper', yref:'paper', x0:px(451), x1:px(470), y0:py(legY[i]), y1:py(legY[i]),
    line:{color:legCols[i], width:2}, layer:'above'});
  ann.push({text:'<b>'+nm+'</b>', xref:'paper', yref:'paper', x:px(471), y:py(legY[i]), xanchor:'left', yanchor:'middle',
    showarrow:false, font:{family:'Open Sans, sans-serif', size:9.8, color:'#111'}});
});

const layout = {
  width:W, height:H, margin:{l:ML, r:MR, t:0, b:0, pad:0},
  paper_bgcolor:'#ffffff', plot_bgcolor:'#ffffff', showlegend:false,
  font:{family:'DejaVu Sans, sans-serif', size:11, color:'#222'},
  xaxis: xax('y'), xaxis2: xax('y2'), xaxis3: xax('y3'), xaxis4: xax('y4'),
  yaxis:  yax('x', 14, 156, [920,1000], [920,930,940,950,960,970,980,990,1000]),
  yaxis2: yax('x2', 184, 327, [0,23], [0,5,10,15,20]),
  yaxis3: yax('x3', 355, 497, [-3,370], [0,50,100,150,200,250,300,350]),
  yaxis4: yax('x4', 526, 669, [260,280], [260,265,270,275,280]),
  annotations: ann, shapes
};

Plotly.newPlot('chart', traces, layout, {staticPlot:true, displayModeBar:false});
</script>
</body></html>
